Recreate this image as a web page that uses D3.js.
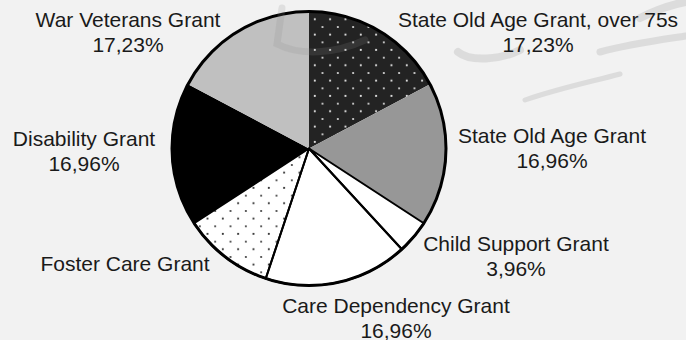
<!DOCTYPE html>
<html>
<head>
<meta charset="utf-8">
<script src="https://cdn.jsdelivr.net/npm/d3@7"></script>
<style>
  html, body { margin: 0; padding: 0; background: #f2f2f2; }
  svg { display: block; }
  text { font-family: "Liberation Sans", Arial, sans-serif; font-size: 21px; fill: #1a1a1a; }
</style>
</head>
<body>
<svg id="chart" width="686" height="340"></svg>
<script>
// ---- data ----
const categories = [
  "State Old Age Grant, over 75s",
  "State Old Age Grant",
  "Child Support Grant",
  "Care Dependency Grant",
  "Foster Care Grant",
  "Disability Grant",
  "War Veterans Grant"
];
const values = [17.23, 16.96, 3.96, 16.96, 10.70, 16.96, 17.23];
const valueLabels = ["17,23%", "16,96%", "3,96%", "16,96%", null, "16,96%", "17,23%"];

// ---- styling / layout (not data) ----
const fills = ["url(#dotsWhite)", "#979797", "#ffffff", "#ffffff", "url(#dotsBlack)", "#000000", "#c0c0c0"];
const outlined = [false, false, true, true, true, false, false];
const labelAnchors = [
  [538, 27], [552, 143], [516, 251], [396, 313], [125, 271], [84, 146], [128, 27]
];

const W = 686, H = 340;
const cx = 309, cy = 148.5, R = 137;

const svg = d3.select("#chart");
svg.append("rect").attr("width", W).attr("height", H).attr("fill", "#f2f2f2");

const defs = svg.append("defs");
function dotPattern(id, bg, dot) {
  const p = defs.append("pattern").attr("id", id)
    .attr("patternUnits", "userSpaceOnUse")
    .attr("width", 15.33).attr("height", 15.33)
    .attr("x", 2).attr("y", 5);
  p.append("rect").attr("width", 15.33).attr("height", 15.33).attr("fill", bg);
  p.append("circle").attr("cx", 3.8).attr("cy", 3.8).attr("r", 1.05).attr("fill", dot);
  p.append("circle").attr("cx", 11.5).attr("cy", 11.5).attr("r", 1.05).attr("fill", dot);
}
dotPattern("dotsWhite", "#232323", "#e8e8e8");
dotPattern("dotsBlack", "#ffffff", "#333333");

// faint watermark strokes (background)
const wm = svg.append("g").attr("fill", "none").attr("stroke", "#b4b4b4")
  .attr("stroke-linecap", "round").attr("opacity", 0.35);
wm.append("path").attr("d", "M458 52 C470 62 500 60 520 50").attr("stroke-width", 8);
wm.append("path").attr("d", "M600 52 C630 44 660 40 686 36").attr("stroke-width", 7);
wm.append("path").attr("d", "M525 100 C560 88 590 82 620 74").attr("stroke-width", 5);
wm.append("path").attr("d", "M640 18 C660 8 675 4 686 2").attr("stroke-width", 8);

const pie = d3.pie().sort(null).value(d => d).startAngle(0).endAngle(2 * Math.PI);
const arcs = pie(values);
const arc = d3.arc().innerRadius(0).outerRadius(R);

const g = svg.append("g").attr("transform", `translate(${cx},${cy})`);

g.selectAll("path.slice")
  .data(arcs)
  .join("path")
  .attr("class", "slice")
  .attr("d", arc)
  .attr("fill", (d, i) => fills[i])
  .attr("stroke", "none");

// divider lines for light slices
g.selectAll("path.outline")
  .data(arcs.filter((d, i) => outlined[i]))
  .join("path")
  .attr("class", "outline")
  .attr("d", arc)
  .attr("fill", "none")
  .attr("stroke", "#000")
  .attr("stroke-width", 2)
  .attr("stroke-linejoin", "round");

// outer rim
g.append("circle").attr("r", R).attr("fill", "none").attr("stroke", "#000").attr("stroke-width", 3);

// watermark over the pie top
svg.append("path").attr("d", "M282 8 L277 44 C300 56 335 54 365 40")
  .attr("fill", "none").attr("stroke", "#888").attr("stroke-width", 7)
  .attr("stroke-linecap", "round").attr("opacity", 0.18);

// labels
const labels = svg.append("g").attr("text-anchor", "middle");
categories.forEach((c, i) => {
  const [x, y] = labelAnchors[i];
  const t = labels.append("text").attr("x", x).attr("y", y);
  t.append("tspan").attr("x", x).text(c);
  if (valueLabels[i]) t.append("tspan").attr("x", x).attr("dy", 25).text(valueLabels[i]);
});
</script>
</body>
</html>
